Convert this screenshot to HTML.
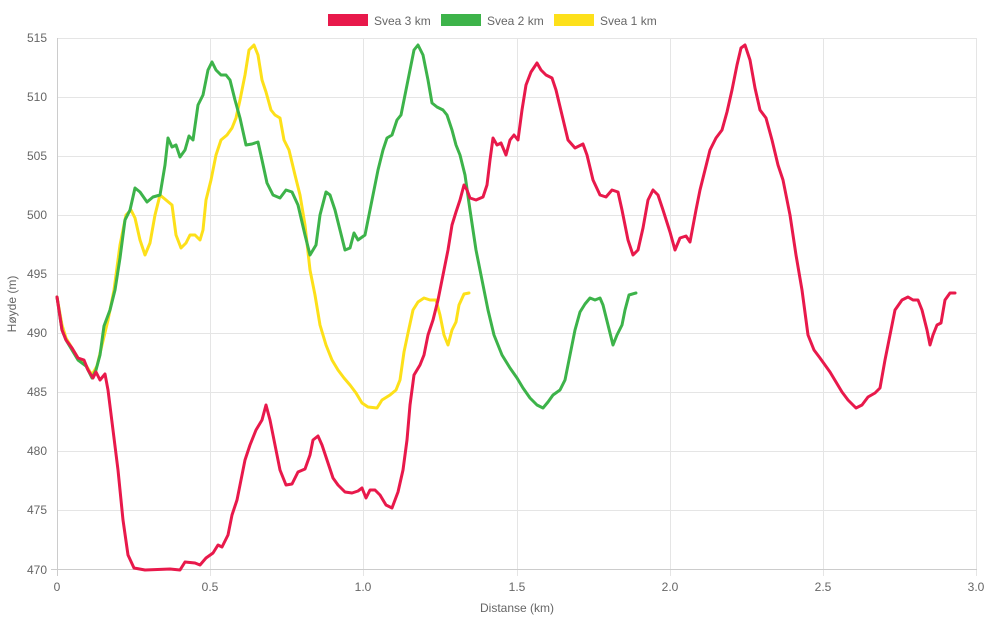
<!DOCTYPE html>
<html><head><meta charset="utf-8"><style>
body{margin:0;background:#fff;}
text{font-family:"Liberation Sans",Arial,sans-serif;fill:#666;font-size:12px;}
</style></head><body>
<svg width="986" height="622" viewBox="0 0 986 622" xmlns="http://www.w3.org/2000/svg">
<g stroke="#e5e5e5" stroke-width="1">
<line x1="57" y1="38.5" x2="977" y2="38.5"/><line x1="57" y1="97.5" x2="977" y2="97.5"/><line x1="57" y1="156.5" x2="977" y2="156.5"/><line x1="57" y1="215.5" x2="977" y2="215.5"/><line x1="57" y1="274.5" x2="977" y2="274.5"/><line x1="57" y1="333.5" x2="977" y2="333.5"/><line x1="57" y1="392.5" x2="977" y2="392.5"/><line x1="57" y1="451.5" x2="977" y2="451.5"/><line x1="57" y1="510.5" x2="977" y2="510.5"/>
<line x1="210.5" y1="38" x2="210.5" y2="576"/><line x1="363.5" y1="38" x2="363.5" y2="576"/><line x1="517.5" y1="38" x2="517.5" y2="576"/><line x1="670.5" y1="38" x2="670.5" y2="576"/><line x1="823.5" y1="38" x2="823.5" y2="576"/><line x1="976.5" y1="38" x2="976.5" y2="576"/>
<line x1="51" y1="569.5" x2="977" y2="569.5" stroke="#ccc"/><line x1="57.5" y1="38" x2="57.5" y2="576" stroke="#ccc"/>
</g>
<g text-anchor="end">
<text x="47" y="42">515</text><text x="47" y="101">510</text><text x="47" y="160">505</text><text x="47" y="219">500</text><text x="47" y="278">495</text><text x="47" y="337">490</text><text x="47" y="396">485</text><text x="47" y="455">480</text><text x="47" y="514">475</text><text x="47" y="574">470</text>
</g>
<g text-anchor="middle">
<text x="57" y="591">0</text><text x="210" y="591">0.5</text><text x="363" y="591">1.0</text><text x="517" y="591">1.5</text><text x="670" y="591">2.0</text><text x="823" y="591">2.5</text><text x="976" y="591">3.0</text>
<text x="517" y="612">Distanse (km)</text>
<text transform="translate(16,304) rotate(-90)">Høyde (m)</text>
</g>
<rect x="328" y="14" width="40" height="12" fill="#e8194b"/><text x="374" y="25">Svea 3 km</text>
<rect x="441" y="14" width="40" height="12" fill="#3db34a"/><text x="487" y="25">Svea 2 km</text>
<rect x="554" y="14" width="40" height="12" fill="#fde01a"/><text x="600" y="25">Svea 1 km</text>
<g fill="none" stroke-width="3" stroke-linejoin="round" stroke-linecap="round">
<polyline stroke="#fde01a" points="57,297 62,325 66,338 72,348 78,358 84,362 92,375 97,366 102,345 108,320 114,290 120,245 126,215 131,210 135,218 140,240 145,255 150,243 155,215 160,195 166,200 172,205 176,235 181,248 186,243 190,235 195,235 200,240 203,230 206,200 211,180 216,155 221,140 227,135 232,128 236,118 240,100 245,75 249,50 254,45 258,55 262,80 266,92 271,110 275,115 280,118 284,140 289,150 295,175 300,195 305,225 310,270 315,295 320,325 326,345 332,360 338,370 344,378 350,385 356,393 362,403 368,407 377,408 382,400 390,395 396,390 400,380 404,352 408,333 413,310 418,302 424,298 430,300 436,300 440,315 444,335 448,345 452,330 456,322 459,305 464,294 469,293"/>
<polyline stroke="#3db34a" points="57,297 62,330 66,340 72,350 78,360 86,366 92,378 96,370 100,355 104,326 110,310 115,290 120,258 125,220 130,210 135,188 140,192 147,202 153,197 160,195 165,165 168,138 172,147 176,145 180,157 185,150 189,136 193,140 198,105 203,95 208,70 212,62 216,70 221,75 226,75 230,80 235,100 240,118 246,145 252,144 258,142 262,160 267,183 273,195 280,198 286,190 292,192 298,205 305,235 310,255 316,245 320,215 326,192 330,195 335,210 340,230 345,250 350,248 354,233 358,240 365,235 370,210 374,190 378,170 383,150 387,138 392,135 397,120 401,115 404,100 410,70 414,50 418,45 423,55 428,80 432,103 437,107 443,110 447,115 452,130 456,145 460,155 465,175 470,210 476,250 482,280 488,310 494,335 502,355 510,368 517,378 523,388 530,398 537,405 543,408 548,402 553,395 560,390 565,380 570,355 575,330 580,312 585,304 590,298 595,300 600,298 603,305 608,325 613,345 617,335 622,325 625,310 629,295 636,293"/>
<polyline stroke="#e8194b" points="57,297 62,330 66,340 72,348 78,358 84,360 88,370 93,378 96,372 100,380 105,374 108,390 113,430 118,470 123,520 128,555 134,568 145,570 170,569 180,570 185,562 195,563 200,565 206,558 213,553 218,545 222,547 228,535 232,515 237,500 240,485 245,460 250,445 256,430 262,420 266,405 270,420 275,445 280,470 286,485 292,484 298,472 305,469 310,455 313,440 318,436 322,445 327,460 333,478 338,485 345,492 352,493 358,491 362,488 366,498 370,490 375,490 380,495 386,505 392,508 398,492 403,470 407,440 410,405 414,375 420,365 424,355 428,335 433,320 438,300 442,280 448,250 452,225 456,212 460,200 464,185 467,190 470,198 476,200 483,197 487,185 490,160 493,138 497,145 501,143 506,155 510,140 514,135 518,140 522,110 526,85 531,72 537,63 541,70 546,75 552,78 556,90 562,115 568,140 575,148 583,144 587,155 593,180 600,195 606,197 612,190 618,192 622,210 628,240 633,255 638,250 643,228 648,200 653,190 658,195 663,210 670,232 675,250 680,238 686,236 690,242 696,210 700,190 705,170 710,150 716,138 722,130 727,112 732,90 737,65 741,48 745,45 750,60 755,88 760,110 766,118 772,140 778,165 783,180 790,215 796,255 802,290 808,335 814,350 820,358 825,365 830,372 836,382 842,392 848,400 856,408 862,405 868,397 875,393 880,388 885,360 890,335 895,310 902,300 908,297 913,300 918,300 922,310 927,330 930,345 933,335 937,325 941,323 945,300 950,293 955,293"/>
</g>
</svg>
</body></html>
